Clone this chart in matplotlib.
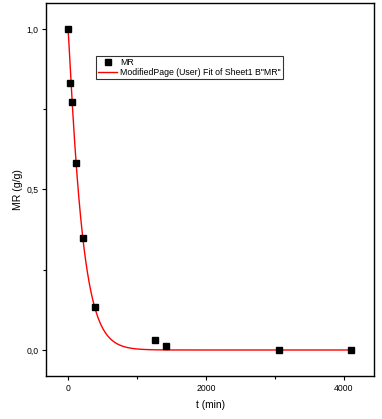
import numpy as np
import matplotlib
matplotlib.use("Agg")
import matplotlib.pyplot as plt
from matplotlib.ticker import FixedLocator, FuncFormatter

plt.rcParams['font.family'] = ['Liberation Sans', 'DejaVu Sans']

# Observed data
t_min = [0, 33, 58, 120, 213, 391, 1261, 1416, 3062, 4101]
mr = [1.0, 0.831, 0.773, 0.581, 0.349, 0.134, 0.031, 0.013, 0.0, 0.0]

# Modified Page fit parameters: MR = exp(-k * t^n)
fit_k = 0.00288
fit_n = 1.1

x_ticks = [0, 2000, 4000]
y_ticks = [0.0, 0.5, 1.0]

fig = plt.figure(figsize=(3.82, 4.19), dpi=100)
ax = fig.add_axes([46/382, 1-376/419, (374-46)/382, (376-3)/419])

tt = np.linspace(0, 4101, 800)
ax.plot(tt, np.exp(-fit_k * tt**fit_n), color='red', lw=1.0,
        label='ModifiedPage (User) Fit of Sheet1 B"MR"', zorder=2)
ax.plot(t_min, mr, 's', color='black', ms=4.2, label='MR', zorder=3)

ax.set_xlim(-320, 4435)
ax.set_ylim(-0.081, 1.081)
ax.xaxis.set_major_locator(FixedLocator(x_ticks))
ax.xaxis.set_minor_locator(FixedLocator([1000, 3000]))
ax.yaxis.set_major_locator(FixedLocator(y_ticks))
ax.yaxis.set_minor_locator(FixedLocator([0.25, 0.75]))
ax.yaxis.set_major_formatter(FuncFormatter(lambda v, p: f"{v:.1f}".replace('.', ',')))
ax.tick_params(which='major', direction='out', length=3, width=0.8, labelsize=6.2, pad=2.5)
ax.tick_params(which='minor', direction='out', length=2, width=0.8)
for s in ax.spines.values():
    s.set_linewidth(1.0)

ax.set_xlabel('t (min)', fontsize=7.3, labelpad=5)
ax.set_ylabel('MR (g/g)', fontsize=7.6, labelpad=2)

handles, labels = ax.get_legend_handles_labels()
leg = ax.legend(handles[::-1], labels[::-1], loc='upper left',
                bbox_to_anchor=(0.153, 0.858), fontsize=6.3, frameon=True,
                fancybox=False, edgecolor='black', borderpad=0.2,
                handlelength=2.2, handletextpad=0.35, labelspacing=0.15,
                borderaxespad=0)
leg.get_frame().set_linewidth(0.8)

fig.savefig('out.png', dpi=100)
